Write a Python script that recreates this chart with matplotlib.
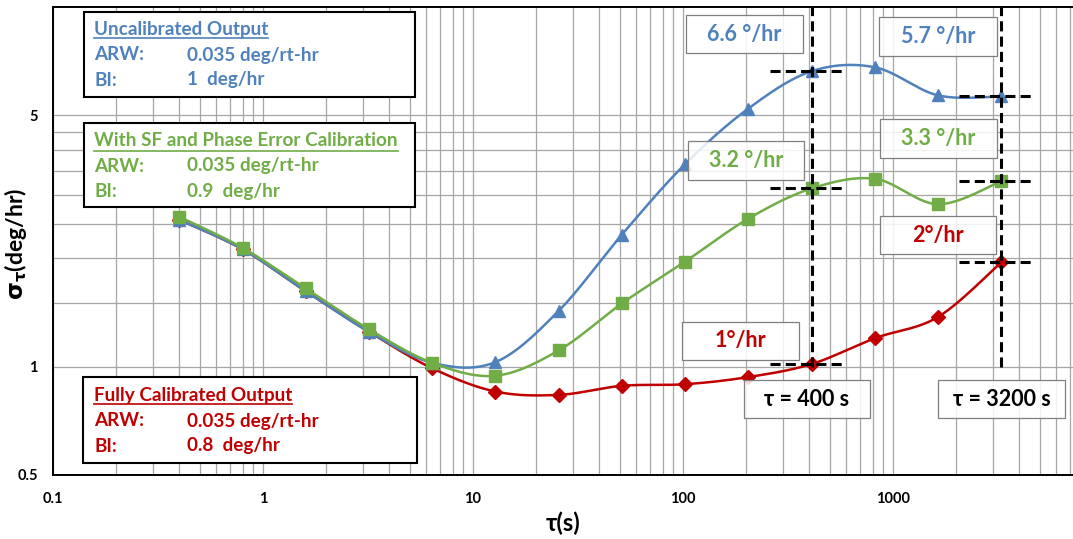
import numpy as np
import matplotlib
matplotlib.use("Agg")
import matplotlib.pyplot as plt
from matplotlib.patches import Rectangle
from matplotlib.lines import Line2D
from matplotlib.ticker import FixedLocator, FixedFormatter, LogLocator, NullFormatter

# ---------------- data ----------------
tau = [0.4, 0.8, 1.6, 3.2, 6.4, 12.8, 25.6, 51.2, 102.4, 204.8, 409.6, 819.2, 1638.4, 3276.8]
uncalibrated = [2.56, 2.12, 1.62, 1.25, 1.025, 1.03, 1.43, 2.33, 3.66, 5.22, 6.63, 6.80, 5.68, 5.64]
sf_phase_cal = [2.61, 2.14, 1.65, 1.27, 1.025, 0.944, 1.11, 1.50, 1.96, 2.58, 3.13, 3.33, 2.83, 3.28]
fully_cal = [2.56, 2.12, 1.62, 1.25, 0.99, 0.853, 0.835, 0.885, 0.894, 0.936, 1.017, 1.20, 1.375, 1.95]

y_major = [0.5, 1, 5]
y_major_labels = ["0.5", "1", "5"]
y_minor = [1.5, 2, 2.5, 3, 3.5, 4, 4.5]
x_major = [0.1, 1, 10, 100, 1000]
x_major_labels = ["0.1", "1", "10", "100", "1000"]

marked_tau = [409.6, 3276.8]
marked_labels = ["τ = 400 s", "τ = 3200 s"]
bi_labels_uncal = ["6.6 °/hr", "5.7 °/hr"]
bi_labels_sf = ["3.2 °/hr", "3.3 °/hr"]
bi_labels_full = ["1°/hr", "2°/hr"]

BLUE = "#4F81BD"
GREEN = "#70AD47"
RED = "#C00000"

plt.rcParams["font.family"] = ["Lato", "DejaVu Sans"]
plt.rcParams["font.weight"] = "bold"
plt.rcParams["mathtext.fontset"] = "dejavusans"

W, H = 1073, 539
fig = plt.figure(figsize=(W / 100, H / 100), dpi=100)
L, R, T, B = 53, 1073, 7, 475
ax = fig.add_axes([L / W, 1 - B / H, (R - L) / W, (B - T) / H])
ax.set_xscale("log")
ax.set_yscale("log")
ax.set_xlim(0.1, 7200)
ax.set_ylim(0.5, 10)


def P(px, py):
    return ((px - L) / (R - L), (B - py) / (B - T))


def smooth(xs, ys, n=30):
    lx = np.log10(np.asarray(xs, float))
    ly = np.log10(np.asarray(ys, float))
    pts = np.column_stack([lx, ly])
    out = []
    m = len(pts)
    for i in range(m - 1):
        p0 = pts[max(i - 1, 0)]
        p1 = pts[i]
        p2 = pts[i + 1]
        p3 = pts[min(i + 2, m - 1)]
        b1 = p1 + (p2 - p0) / 6.0
        b2 = p2 - (p3 - p1) / 6.0
        t = np.linspace(0, 1, n)[:, None]
        seg = ((1 - t) ** 3) * p1 + 3 * ((1 - t) ** 2) * t * b1 + 3 * (1 - t) * t ** 2 * b2 + t ** 3 * p2
        out.append(seg if i == 0 else seg[1:])
    arr = np.vstack(out)
    return 10 ** arr[:, 0], 10 ** arr[:, 1]


# grid
ax.xaxis.set_major_locator(FixedLocator(x_major))
ax.xaxis.set_major_formatter(FixedFormatter(x_major_labels))
ax.xaxis.set_minor_locator(LogLocator(base=10, subs=np.arange(2, 10)))
ax.xaxis.set_minor_formatter(NullFormatter())
ax.yaxis.set_major_locator(FixedLocator(y_major))
ax.yaxis.set_major_formatter(FixedFormatter(y_major_labels))
ax.yaxis.set_minor_locator(FixedLocator(y_minor))
ax.yaxis.set_minor_formatter(NullFormatter())
ax.grid(True, which="both", color="#A6A6A6", lw=0.9, zorder=0)
ax.set_axisbelow(True)
ax.tick_params(which="both", length=0)
ax.tick_params(axis="y", labelsize=10.5, pad=11)
ax.tick_params(axis="x", labelsize=10.5, pad=12)
for s in ["left", "bottom", "top"]:
    ax.spines[s].set_color("black")
    ax.spines[s].set_linewidth(1.4)
ax.spines["right"].set_visible(False)

# series
for ys, col, mk, ms, z in [
    (fully_cal, RED, "D", 7.5, 3),
    (uncalibrated, BLUE, "^", 9, 4),
    (sf_phase_cal, GREEN, "s", 9, 5),
]:
    sx, sy = smooth(tau, ys)
    ax.plot(sx, sy, color=col, lw=1.8, zorder=z)
    ax.plot(tau, ys, ls="none", marker=mk, ms=ms, color=col, mec=col, zorder=z)

# dashed marker lines
dash = dict(color="black", lw=2.2, dashes=(3.3, 1.7), zorder=6)
for t in marked_tau:
    ax.plot([t, t], [1.0, 10], **dash)
for t, vals in [(marked_tau[0], [uncalibrated[10], sf_phase_cal[10], fully_cal[10]]),
                (marked_tau[1], [uncalibrated[13], sf_phase_cal[13], fully_cal[13]])]:
    for v in vals:
        ax.plot([t / 1.58, t * 1.4], [v, v], **dash)


def box(x0, y0, x1, y1, ec="#7F7F7F", lw=0.9, alpha=0.85, z=7):
    a = P(x0, y1)
    b = P(x1, y0)
    r = Rectangle(a, b[0] - a[0], b[1] - a[1], transform=ax.transAxes,
                  fc=(1, 1, 1, alpha), ec=ec, lw=lw, zorder=z, clip_on=False)
    ax.add_patch(r)


def ctext(x0, y0, x1, y1, s, color, size=15.5):
    cx, cy = P((x0 + x1) / 2, (y0 + y1) / 2)
    ax.text(cx, cy, s, transform=ax.transAxes, ha="center", va="center",
            color=color, fontsize=size, fontweight="bold", zorder=8)


value_boxes = [
    ((686, 15, 803, 53), bi_labels_uncal[0], BLUE),
    ((879, 17, 997, 56), bi_labels_uncal[1], BLUE),
    ((688, 141, 804, 180), bi_labels_sf[0], GREEN),
    ((880, 119, 997, 158), bi_labels_sf[1], GREEN),
    ((682, 322, 799, 360), bi_labels_full[0], RED),
    ((880, 216, 996, 254), bi_labels_full[1], RED),
    ((744, 380, 870, 418), marked_labels[0], "black"),
    ((938, 380, 1065, 418), marked_labels[1], "black"),
]
for (x0, y0, x1, y1), s, c in value_boxes:
    box(x0, y0, x1, y1)
    ctext(x0, y0, x1, y1, s, c)

# legend-like boxes
LFS = 13.6
legend_specs = [
    ((84, 12, 415, 97), "Uncalibrated Output", "0.035 deg/rt-hr", "1  deg/hr", BLUE, (30, 55, 80), 38),
    ((84, 123, 415, 207), "With SF and Phase Error Calibration", "0.035 deg/rt-hr", "0.9  deg/hr", GREEN, (141, 166, 191.5), 151),
    ((83, 377, 417, 463), "Fully Calibrated Output", "0.035 deg/rt-hr", "0.8  deg/hr", RED, (395.5, 421, 446), 404),
]
titles = []
for (x0, y0, x1, y1), title, arw, bi, col, ys, uy in legend_specs:
    box(x0, y0, x1, y1, ec="black", lw=1.5, alpha=1.0)
    tt = ax.text(*P(94, ys[0]), title, transform=ax.transAxes, ha="left", va="center",
                 color=col, fontsize=LFS, fontweight="bold", zorder=8)
    titles.append((tt, uy, col))
    ax.text(*P(94, ys[1]), "ARW:", transform=ax.transAxes, ha="left", va="center",
            color=col, fontsize=LFS, fontweight="bold", zorder=8)
    ax.text(*P(187, ys[1]), arw, transform=ax.transAxes, ha="left", va="center",
            color=col, fontsize=LFS, fontweight="bold", zorder=8)
    ax.text(*P(94, ys[2]), "BI:", transform=ax.transAxes, ha="left", va="center",
            color=col, fontsize=LFS, fontweight="bold", zorder=8)
    ax.text(*P(187, ys[2]), bi, transform=ax.transAxes, ha="left", va="center",
            color=col, fontsize=LFS, fontweight="bold", zorder=8)

ax.set_xlabel("τ(s)", fontsize=17, fontweight="bold", labelpad=4)
ax.set_ylabel(r"$\mathbf{\sigma_{\tau}}$(deg/hr)", fontsize=16.5, fontweight="bold")
ax.yaxis.set_label_coords((29 - L) / (R - L), (B - 244) / (B - T))

fig.canvas.draw()
rend = fig.canvas.get_renderer()
for tt, uy, col in titles:
    bb = tt.get_window_extent(rend)
    xa = ax.transAxes.inverted().transform([[bb.x0, 0], [bb.x1, 0]])[:, 0]
    yv = P(0, uy)[1]
    ax.add_line(Line2D(xa, [yv, yv], transform=ax.transAxes, color=col, lw=1.2, zorder=8))

fig.savefig("out.png", dpi=100)
